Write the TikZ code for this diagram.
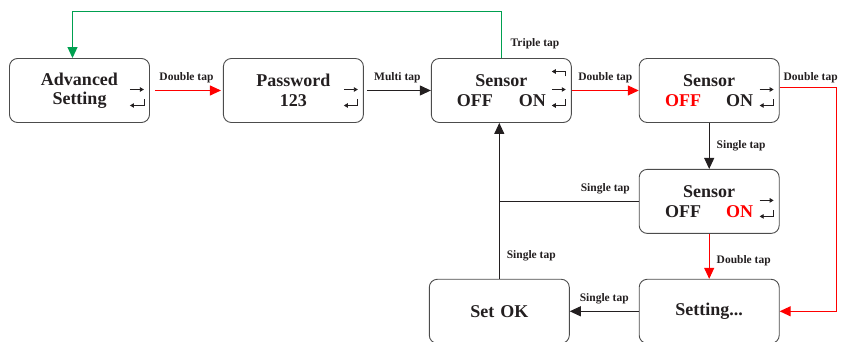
\documentclass[tikz,border=0pt]{standalone}
\usepackage{fontspec}
\setmainfont{Liberation Serif}
\usetikzlibrary{arrows.meta,positioning}
\definecolor{tapgreen}{RGB}{0,160,80}
\definecolor{tapblack}{RGB}{35,31,32}

\begin{document}
\begin{tikzpicture}[x=1pt,y=1pt,
  every node/.style={font=\bfseries},
  box/.style={draw=black!70,line width=0.9pt,rounded corners=8pt,minimum width=140pt,minimum height=64pt,inner sep=1pt,align=center,font=\fontsize{18}{19.5}\selectfont\bfseries,text=tapblack},
  tap/.style={font=\fontsize{11.5}{13}\selectfont\bfseries,text=tapblack,inner sep=1pt},
  link/.style={line width=1pt,-{Triangle[length=11pt,width=10pt]}},
  key/.style={line width=0.8pt,draw=tapblack,-{Triangle[length=4pt,width=4.5pt]}}]
\useasboundingbox (0,0) rectangle (841,342);
\clip (0,0) rectangle (841,342);

% boxes
\node[box] (adv) at (79.5,251.5) {Advanced\\Setting};
\node[box,right=73pt of adv] (pwd) {Password\\123};
\node[box,right=67pt of pwd] (sen1) {Sensor\\OFF\hspace{26pt}ON};
\node[box,right=67pt of sen1] (sen2) {Sensor\\\textcolor{red}{OFF}\hspace{25pt}ON};
\node[box,below=46pt of sen2] (sen3) {Sensor\\OFF\hspace{25pt}\textcolor{red}{ON}};
\node[box,below=45pt of sen3] (setting) {Setting...};
\node[box,left=69pt of setting] (setok) {Set\hspace{6pt}OK};

% key icons
\foreach \b in {adv,pwd,sen1,sen2,sen3}{
  \draw[key] ([shift={(-20,1)}]\b.east) -- ++(14,0);
  \draw[key] ([shift={(-6,-9)}]\b.east) -- ++(0,-6) -- ++(-14,0);
}
\draw[key] ([shift={(-6,14)}]sen1.east) -- ++(0,5) -- ++(-14,0);

% taps
\draw[link,tapgreen] (sen1.north) -- ++(0,47) -| ([xshift=-7pt]adv.north);
\node[tap] (triple) at (535,298) {Triple tap};
\draw[link,red,shorten <=5pt,shorten >=2pt] (adv) -- node[tap,above=6pt] {Double tap} (pwd);
\draw[link,tapblack,shorten <=3pt] (pwd) -- node[tap,above=6pt] {Multi tap} (sen1);
\draw[link,red] (sen1) -- node[tap,above=6pt] {Double tap} (sen2);
\coordinate (bend) at ([shift={(57,3)}]sen2.east);
\draw[link,draw=red] ([yshift=3pt]sen2.east) -- (bend) |- (setting.east);
\node[tap,above=3pt] (dbl) at ([xshift=-26pt]bend) {Double tap};
\draw[link,tapblack] (sen2) -- node[tap,right=6pt] {Single tap} (sen3);
\draw[line width=1pt,tapblack] (sen3.west) -- node[tap,above=6pt,pos=0.24] {Single tap} (sen3.west -| setok.north);
\draw[link,tapblack] (setok.north) -- node[tap,right=6pt,pos=0.15] {Single tap} (setok.north |- sen1.south);
\draw[link,red] (sen3) -- node[tap,right=6pt,pos=0.6] {Double tap} (setting);
\draw[link,tapblack] (setting) -- node[tap,above=6pt] {Single tap} (setok);
\end{tikzpicture}
\end{document}
